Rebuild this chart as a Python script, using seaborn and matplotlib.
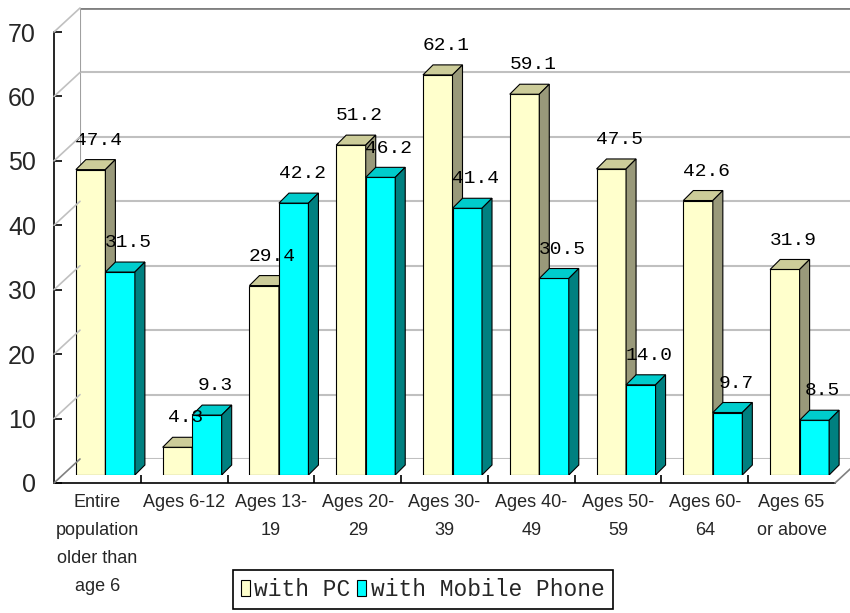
import matplotlib
matplotlib.use("Agg")
import matplotlib.pyplot as plt
import seaborn as sns
import pandas as pd
from matplotlib.patches import Polygon, Patch, ConnectionPatch

# ---------------- data ----------------
categories = ["Entire\npopulation\nolder than\nage 6", "Ages 6-12", "Ages 13-\n19",
              "Ages 20-\n29", "Ages 30-\n39", "Ages 40-\n49", "Ages 50-\n59",
              "Ages 60-\n64", "Ages 65\nor above"]
series_names = ["with PC", "with Mobile Phone"]
pc_values = [47.4, 4.3, 29.4, 51.2, 62.1, 59.1, 47.5, 42.6, 31.9]
mobile_values = [31.5, 9.3, 42.2, 46.2, 41.4, 30.5, 14.0, 9.7, 8.5]
y_ticks = [0, 10, 20, 30, 40, 50, 60, 70]

front_colors = ["#FFFFCC", "#00FFFF"]
top_colors = ["#CCCC99", "#00CCCC"]
side_colors = ["#99997A", "#008080"]

df = pd.DataFrame({
    "category": categories * 2,
    "value": pc_values + mobile_values,
    "series": [series_names[0]] * len(categories) + [series_names[1]] * len(categories),
})

sns.set_theme(style="white")
sans = ["Liberation Sans", "DejaVu Sans"]
mono = ["Liberation Mono", "DejaVu Sans Mono"]
plt.rcParams["font.family"] = sans

W, H = 850, 613
fig = plt.figure(figsize=(W / 100, H / 100), dpi=100)
fig.patch.set_facecolor("white")

L, B, AW, AH = 54, 130, 781, 451
bar_dx, bar_dy = 8, 8
wall_dx, wall_dy = 26, 24

ax_back = fig.add_axes([(L + wall_dx) / W, (B + wall_dy) / H, AW / W, AH / H])
ax_bars = fig.add_axes([(L + bar_dx) / W, (B + bar_dy) / H, AW / W, AH / H])
ax_front = fig.add_axes([L / W, B / H, AW / W, AH / H])

xlim = (-0.5, len(categories) - 0.5)
ylim = (y_ticks[0], y_ticks[-1])
for a in (ax_back, ax_bars, ax_front):
    a.set_xlim(*xlim)
    a.set_ylim(*ylim)

# ---- back wall ----
ax_back.set_facecolor("white")
for s in ax_back.spines.values():
    s.set_visible(False)
ax_back.set_xticks([])
ax_back.set_yticks([])
for v in y_ticks:
    ax_back.axhline(v, color="#808080" if v == y_ticks[-1] else "#C0C0C0",
                    lw=2.0 if v == y_ticks[-1] else 1.5, zorder=1)
ax_back.axvline(xlim[0], color="#A0A0A0", lw=1.5, zorder=1)

# ---- bars ----
sns.barplot(data=df, x="category", y="value", hue="series", palette=front_colors,
            width=0.68, edgecolor="black", linewidth=0.8, saturation=1,
            ax=ax_bars, legend=False)
ax_bars.set_xlim(*xlim)
ax_bars.set_ylim(*ylim)
ax_bars.patch.set_visible(False)
for s in ax_bars.spines.values():
    s.set_visible(False)
ax_bars.set_xticks([])
ax_bars.set_yticks([])
ax_bars.set_xlabel("")
ax_bars.set_ylabel("")

fig.canvas.draw()
inv = ax_bars.transData.inverted()
o0 = inv.transform((0, 0))
o1 = inv.transform((10, 10))
ddx = o1[0] - o0[0]
ddy = o1[1] - o0[1]

n = len(categories)
bars = [p for p in ax_bars.patches if p.get_width() > 0]
for idx, p in enumerate(bars[:2 * n]):
    s = idx // n
    g = idx % n
    z = 2 + g * 2 + s
    x, w, h = p.get_x(), p.get_width(), p.get_height()
    p.set_zorder(z)
    top = Polygon([(x, h), (x + w, h), (x + w + ddx, h + ddy), (x + ddx, h + ddy)],
                  closed=True, facecolor=top_colors[s], edgecolor="black",
                  lw=0.8, zorder=z)
    side = Polygon([(x + w, 0), (x + w + ddx, ddy), (x + w + ddx, h + ddy), (x + w, h)],
                   closed=True, facecolor=side_colors[s], edgecolor="black",
                   lw=0.8, zorder=z)
    ax_bars.add_patch(top)
    ax_bars.add_patch(side)
    ax_bars.annotate(f"{h:.1f}", (x + w / 2, h), xytext=(6, 15),
                     textcoords="offset points", ha="center", va="bottom",
                     fontsize=14, family=mono, color="black", zorder=100)

# ---- front axes ----
ax_front.patch.set_visible(False)
ax_front.spines["top"].set_visible(False)
ax_front.spines["right"].set_visible(False)
ax_front.spines["left"].set_color("black")
ax_front.spines["bottom"].set_color("black")
ax_front.spines["left"].set_linewidth(1.2)
ax_front.spines["bottom"].set_linewidth(1.2)
ax_front.set_yticks(y_ticks)
ax_front.set_yticklabels([str(v) for v in y_ticks], fontsize=18, family=sans)
ax_front.set_xticks(range(n))
ax_front.set_xticklabels(categories, fontsize=13, family=sans, linespacing=1.85,
                         va="top")
ax_front.set_xticks([i + 0.5 for i in range(n - 1)], minor=True)
ax_front.tick_params(axis="x", which="major", length=0, pad=8)
ax_front.tick_params(axis="x", which="minor", length=6, width=1.2, direction="in",
                     color="black", bottom=True)
ax_front.tick_params(axis="y", direction="in", length=6, width=1.2, pad=13,
                     color="black", left=True)

# ---- left wall & floor diagonals ----
for v in y_ticks:
    fig.add_artist(ConnectionPatch(xyA=(xlim[0], v), coordsA=ax_front.transData,
                                   xyB=(xlim[0], v), coordsB=ax_back.transData,
                                   color="#C0C0C0" if v else "#808080", lw=1.2))
fig.add_artist(ConnectionPatch(xyA=(xlim[1], 0), coordsA=ax_front.transData,
                               xyB=(xlim[1], 0), coordsB=ax_back.transData,
                               color="#808080", lw=1.2))

# ---- legend ----
handles = [Patch(facecolor=front_colors[i], edgecolor="black", lw=0.8,
                 label=series_names[i]) for i in range(2)]
leg = fig.legend(handles=handles, loc="upper left",
                 bbox_to_anchor=(233 / W, 1 - 570 / H), ncol=2,
                 prop={"family": mono, "size": 16.5}, frameon=True, fancybox=False,
                 edgecolor="black", framealpha=1, handlelength=0.38,
                 handleheight=0.65, handletextpad=0.2, columnspacing=0.3,
                 borderpad=0.35, borderaxespad=0)
leg.get_frame().set_linewidth(1.2)

fig.savefig("out.png", dpi=100)
